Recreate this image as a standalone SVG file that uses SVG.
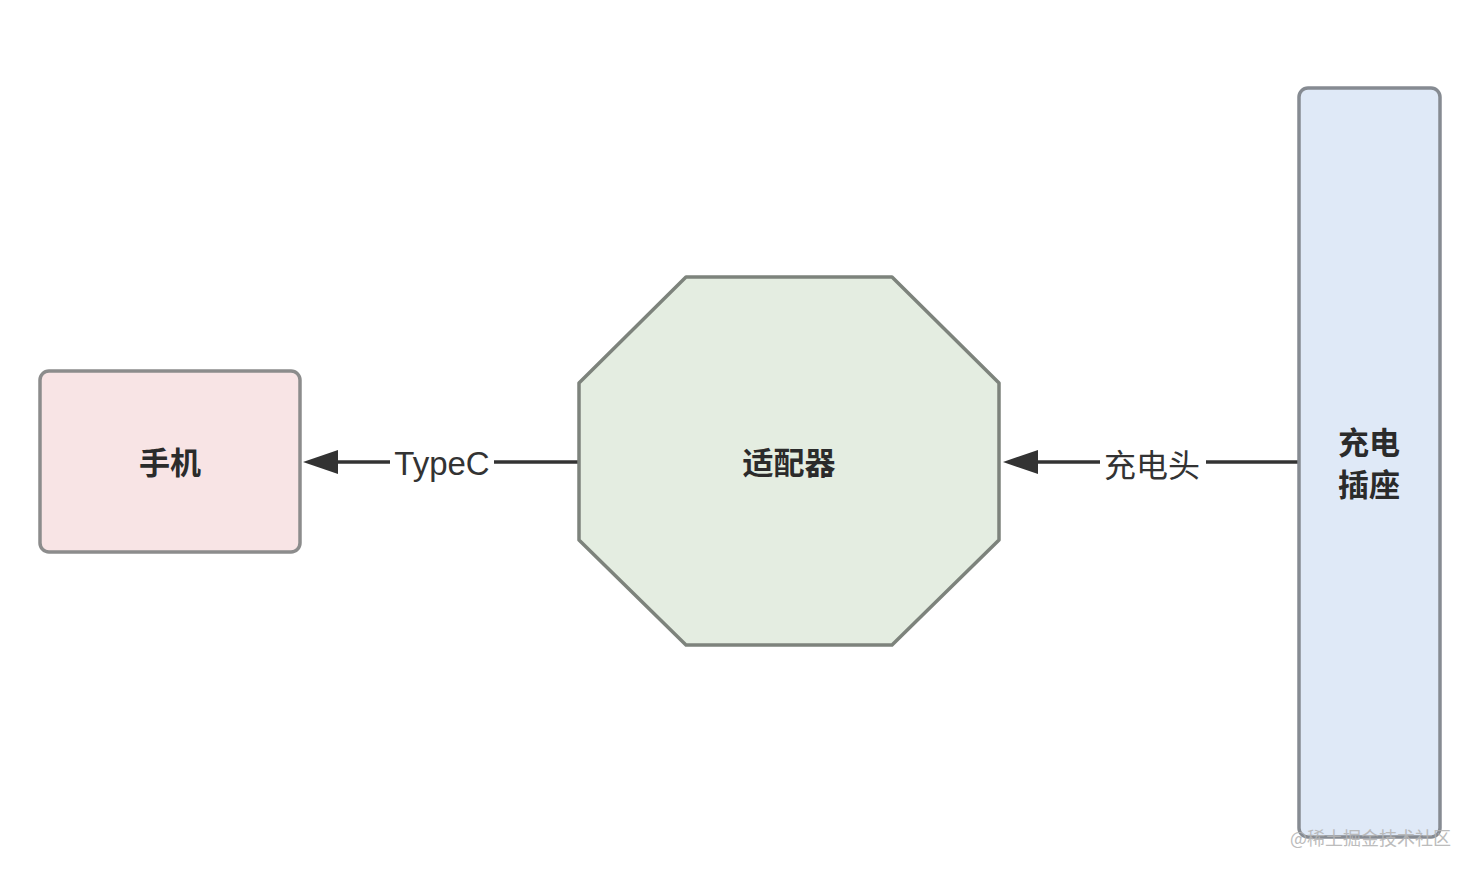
<svg xmlns="http://www.w3.org/2000/svg" width="1474" height="872" viewBox="0 0 1474 872">
  <defs>
    <style>
      .node { stroke-width: 3.5; stroke-linejoin: round; }
      .lbl { font-family: "Noto Sans CJK SC", "Liberation Sans", sans-serif; font-size: 31px; font-weight: bold; fill: #2b2b2b; text-anchor: middle; dominant-baseline: central; }
      .elbl { font-family: "Liberation Sans", "Noto Sans CJK SC", sans-serif; font-size: 33px; fill: #333333; text-anchor: middle; dominant-baseline: central; }
      .edge { stroke: #333333; stroke-width: 3.5; fill: none; }
      .head { fill: #333333; }
    </style>
  </defs>
  <rect width="1474" height="872" fill="#ffffff"/>

  <g id="connectors">
    <line class="edge" x1="578" y1="462" x2="334" y2="462"/>
    <polygon class="head" points="303,462 338,450 338,474"/>
    <rect x="390" y="444" width="104" height="36" fill="#ffffff"/>
    <text class="elbl" x="442" y="463">TypeC</text>

    <line class="edge" x1="1298" y1="462" x2="1034" y2="462"/>
    <polygon class="head" points="1003,462 1038,450 1038,474"/>
    <rect x="1100" y="444" width="106" height="36" fill="#ffffff"/>
    <text class="elbl" x="1152" y="463" style="font-family:'Noto Sans CJK SC', sans-serif; font-size:32px;">充电头</text>
  </g>

  <g id="node-phone">
    <rect class="node" x="40" y="371" width="260" height="181" rx="9" fill="#f8e4e5" stroke="#8c8c8c"/>
    <text class="lbl" x="170" y="460">手机</text>
  </g>

  <g id="node-adapter">
    <polygon class="node" points="686,277 892,277 999,383 999,540 892,645 686,645 579,540 579,383" fill="#e4ede1" stroke="#7d837c"/>
    <text class="lbl" x="789" y="460">适配器</text>
  </g>

  <g id="node-socket">
    <rect class="node" x="1299" y="88" width="141" height="749" rx="9" fill="#dfe9f7" stroke="#868b92"/>
    <text class="lbl" x="1369" y="440">充电</text>
    <text class="lbl" x="1369" y="482">插座</text>
  </g>

  <text x="1290" y="845" style="font-family:'Noto Sans CJK SC', sans-serif; font-size:18px; fill:#b5b5b5;" opacity="0.9">@稀土掘金技术社区</text>
</svg>
